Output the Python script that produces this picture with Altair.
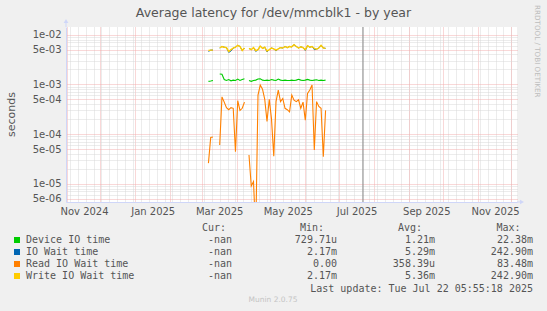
import altair as alt
import pandas as pd

# ---------------- data ----------------
first_day = "2025-03-07"          # first consolidated sample shown
step_days = 2

device_io = [1.15e-3, 1.17e-3, 1.20e-3, None, None, 1.62e-3, 1.60e-3, 1.25e-3, 1.20e-3, 1.25e-3,
             1.18e-3, 1.22e-3, 1.20e-3, 1.28e-3, 1.20e-3, 1.25e-3, 1.30e-3, None, 1.20e-3, 1.15e-3,
             1.20e-3, 1.22e-3, 1.28e-3, 1.30e-3, 1.22e-3, 1.20e-3, 1.22e-3, 1.20e-3, 1.25e-3, 1.22e-3,
             1.20e-3, 1.28e-3, 1.22e-3, 1.20e-3, 1.22e-3, 1.20e-3, 1.20e-3, 1.22e-3, 1.20e-3, 1.22e-3,
             1.27e-3, 1.22e-3, 1.20e-3, 1.22e-3, 1.26e-3, 1.22e-3, 1.20e-3, 1.22e-3, 1.24e-3, 1.20e-3,
             1.22e-3, 1.20e-3, 1.22e-3]

io_wait = [4.6e-3, 4.9e-3, 4.9e-3, None, None, 5.4e-3, 5.8e-3, 5.6e-3, 5.5e-3, 4.4e-3,
           4.7e-3, 5.4e-3, 5.6e-3, 6.1e-3, 5.8e-3, 4.8e-3, 5.4e-3, None, 5.3e-3, 5.0e-3,
           5.5e-3, 4.6e-3, 5.0e-3, 5.9e-3, 5.3e-3, 5.6e-3, 4.5e-3, 5.0e-3, 5.4e-3, 5.2e-3,
           4.7e-3, 5.2e-3, 5.5e-3, 5.4e-3, 5.8e-3, 5.5e-3, 5.8e-3, 5.7e-3, 6.3e-3, 5.8e-3,
           5.4e-3, 5.7e-3, 5.5e-3, 4.8e-3, 6.0e-3, 5.6e-3, 5.8e-3, 5.0e-3, 5.1e-3, 5.4e-3,
           6.1e-3, 5.4e-3, 5.3e-3]

read_io = [2.6e-5, 8.5e-5, 8.7e-5, None, None, 6.0e-5, 5.6e-4, 4.4e-4, 3.4e-4, 3.1e-4,
           3.4e-4, 3.3e-4, 4.4e-5, 4.7e-4, 3.0e-4, 3.3e-4, 4.4e-4, None, 3.8e-5, 9.0e-6,
           1.1e-5, 1.0e-6, 6.1e-4, 9.7e-4, 8.0e-4, 5.0e-4, 1.8e-4, 5.0e-4, 2.0e-4, 3.6e-5,
           4.5e-4, 7.7e-4, 4.5e-4, 5.2e-4, 3.3e-4, 3.1e-4, 2.8e-4, 6.1e-4, 4.8e-4, 4.5e-4,
           4.9e-4, 3.3e-4, 4.4e-4, 1.9e-4, 6.6e-4, 7.7e-4, 9.7e-4, 4.8e-5, 4.5e-4, 3.6e-4,
           3.3e-4, 3.5e-5, 3.0e-4]

write_io = [4.8e-3, 4.9e-3, 4.9e-3, None, None, 5.4e-3, 5.8e-3, 5.6e-3, 5.5e-3, 4.6e-3,
            5.0e-3, 5.4e-3, 5.6e-3, 6.1e-3, 5.8e-3, 4.8e-3, 5.4e-3, None, 5.3e-3, 5.0e-3,
            5.5e-3, 4.8e-3, 5.0e-3, 5.9e-3, 5.3e-3, 5.6e-3, 4.7e-3, 5.0e-3, 5.4e-3, 5.2e-3,
            4.9e-3, 5.2e-3, 5.5e-3, 5.4e-3, 5.8e-3, 5.5e-3, 5.8e-3, 5.7e-3, 6.3e-3, 5.8e-3,
            5.4e-3, 5.7e-3, 5.5e-3, 5.0e-3, 6.0e-3, 5.6e-3, 5.8e-3, 5.3e-3, 5.1e-3, 5.4e-3,
            6.1e-3, 5.4e-3, 5.3e-3]

series_names = ["Device IO time", "IO Wait time", "Read IO Wait time", "Write IO Wait time"]
series_colors = ["#00CC00", "#0066B3", "#FF8000", "#FFCC00"]
series_widths = [1.1, 1.0, 1.1, 1.4]
cur_vals = ["-nan", "-nan", "-nan", "-nan"]
min_vals = ["729.71u", "2.17m", "0.00", "2.17m"]
avg_vals = ["1.21m", "5.29m", "358.39u", "5.36m"]
max_vals = ["22.38m", "242.90m", "83.48m", "242.90m"]

title_text = "Average latency for /dev/mmcblk1 - by year"
y_title = "seconds"
last_update = "Last update: Tue Jul 22 05:55:18 2025"
footer = "Munin 2.0.75"
watermark = "RRDTOOL / TOBI OETIKER"
now_time = "2025-07-22T05:55:18"

x_start = "2024-10-31T12:00"
x_end = "2025-12-06T00:00"
y_lo, y_hi = 4.29e-6, 1.43e-2

# ---------------- build tables ----------------
def ms(t):
    return int(pd.Timestamp(t).timestamp() * 1000)

dates = [pd.Timestamp(first_day) + pd.Timedelta(days=step_days * k) for k in range(len(device_io))]
rows = []
for name, vals in zip(series_names, [device_io, io_wait, read_io, write_io]):
    for d, v in zip(dates, vals):
        rows.append({"date": ms(d), "series": name, "value": v})
df = pd.DataFrame(rows)

week_ticks = [ms(d) for d in pd.date_range("2024-10-28", "2025-12-08", freq="W-MON")]
month_ticks = [ms(d) for d in pd.date_range("2024-11-01", "2025-12-01", freq="MS")]
label_ticks = [ms(d + pd.Timedelta(hours=372)) for d in pd.date_range("2024-11-01", "2025-11-01", freq="2MS")]
major_y = [m * 10.0 ** e for e in range(-6, -1) for m in (1, 5) if y_lo <= m * 10.0 ** e <= y_hi]
minor_y = [m * 10.0 ** e for e in range(-6, -1) for m in (2, 3, 4, 6, 7, 8, 9) if y_lo <= m * 10.0 ** e <= y_hi]

W, H = 451, 175
FONT = "DejaVu Sans"
MONO = "DejaVu Sans Mono"
FC = "#555555"
MINOR = "#d8d8d8"
MAJOR = "#f2b0b0"
AXISC = "#CFD6F8"

xscale = alt.Scale(type="utc", domain=[ms(x_start), ms(x_end)], nice=False)
yscale = alt.Scale(type="log", domain=[y_lo, y_hi], nice=False)

base = alt.Chart(df)

def series_layer(i, xaxis, yaxis):
    return base.transform_filter(alt.datum.series == series_names[i]).mark_line(
        color=series_colors[i], strokeWidth=series_widths[i], clip=True,
        invalid="break-paths-show-domains"
    ).encode(
        x=alt.X("date:T", scale=xscale, axis=xaxis),
        y=alt.Y("value:Q", scale=yscale, axis=yaxis),
    )

minor_x_axis = alt.Axis(values=week_ticks, grid=True, gridColor=MINOR, gridDash=[1, 1], labels=False,
                        ticks=False, domain=False, title=None, orient="bottom")
minor_y_axis = alt.Axis(values=minor_y, grid=True, gridColor=MINOR, gridDash=[1, 1], labels=False,
                        ticks=False, domain=False, title=None, orient="left")
major_x_axis = alt.Axis(values=month_ticks, grid=True, gridColor=MAJOR, gridDash=[1, 1], labels=False,
                        ticks=False, domain=False, title=None, orient="bottom")
major_y_axis = alt.Axis(values=major_y, grid=True, gridColor=MAJOR, gridDash=[1, 1],
                        labelExpr="replace(format(datum.value, '.0e'), 'e-', 'e-0')",
                        labelFont=FONT, labelFontSize=10, labelColor=FC, labelPadding=5,
                        labelOverlap=False, labelBound=False, ticks=False, tickSize=0,
                        domain=True, domainColor=AXISC, title=None, orient="left")
label_x_axis = alt.Axis(values=label_ticks, grid=False, labelExpr="utcFormat(datum.value, '%b %Y')",
                        labelFont=FONT, labelFontSize=10, labelColor=FC, labelPadding=4,
                        labelOverlap=False, labelFlush=False, ticks=False, tickSize=0,
                        domain=True, domainColor=AXISC, title=None, orient="bottom")

l_green = series_layer(0, minor_x_axis, minor_y_axis)
l_blue = series_layer(1, major_x_axis, major_y_axis)
l_orange = series_layer(2, label_x_axis, None)
l_yellow = series_layer(3, None, None)

now_rule = alt.Chart(pd.DataFrame({"t": [ms(now_time)]})).mark_rule(color="#888888", strokeWidth=1).encode(
    x=alt.X("t:T", scale=xscale, axis=None)
)

dummy = pd.DataFrame({"_": [0]})

def txt(text, x, y, align="left", font=MONO, size=10, color=FC, angle=0, baseline="middle"):
    kw = {}
    if angle:
        kw["angle"] = angle
    return alt.Chart(dummy).mark_text(text=text, align=align, baseline=baseline, font=font,
                                      fontSize=size, color=color, **kw).encode(
        x=alt.value(x), y=alt.value(y))

texts = [
    txt(title_text, 207.5, -14, align="center", font=FONT, size=12.5),
    txt(y_title, -54.5, 87.5, align="center", font=FONT, size=11, angle=270),
    txt(watermark, 471, -22, align="left", font=FONT, size=7.2, color="#bdbdbd", angle=90),
    txt("Cur:", 160, 201, align="right"),
    txt("Min:", 258, 201, align="right"),
    txt("Avg:", 356, 201, align="right"),
    txt("Max:", 454.5, 201, align="right"),
    txt(last_update, 467, 262, align="right"),
    txt(footer, 207, 273, align="center", font=FONT, size=7.5, color="#c4c4c4"),
]
row_y = [213, 225, 237, 249]
for i in range(4):
    y = row_y[i]
    texts.append(alt.Chart(dummy).mark_square(size=36, color=series_colors[i], opacity=1).encode(
        x=alt.value(-49), y=alt.value(y)))
    texts.append(txt(series_names[i], -40, y))
    texts.append(txt(cur_vals[i], 166, y, align="right"))
    texts.append(txt(min_vals[i], 271, y, align="right"))
    texts.append(txt(avg_vals[i], 369, y, align="right"))
    texts.append(txt(max_vals[i], 467, y, align="right"))

# axis arrows
arrows = [
    alt.Chart(dummy).mark_rule(color=AXISC).encode(x=alt.value(0), y=alt.value(-6), y2=alt.value(0)),
    alt.Chart(dummy).mark_point(shape="triangle-up", filled=True, size=22, color=AXISC, opacity=1).encode(
        x=alt.value(0), y=alt.value(-6)),
    alt.Chart(dummy).mark_rule(color=AXISC).encode(x=alt.value(W), x2=alt.value(W + 5), y=alt.value(H)),
    alt.Chart(dummy).mark_point(shape="triangle-right", filled=True, size=22, color=AXISC, opacity=1).encode(
        x=alt.value(W + 5), y=alt.value(H)),
]

chart = alt.layer(l_green, l_blue, l_orange, l_yellow, now_rule, *arrows, *texts).resolve_axis(
    x="independent", y="independent"
).properties(
    width=W, height=H,
    padding={"left": 66, "top": 27, "right": 30, "bottom": 109},
    autosize=alt.AutoSizeParams(type="none"),
    background="#F0F0F0",
).configure_view(fill="white", stroke=None)

chart.save("out.html", embed_options={"renderer": "svg", "actions": False})
